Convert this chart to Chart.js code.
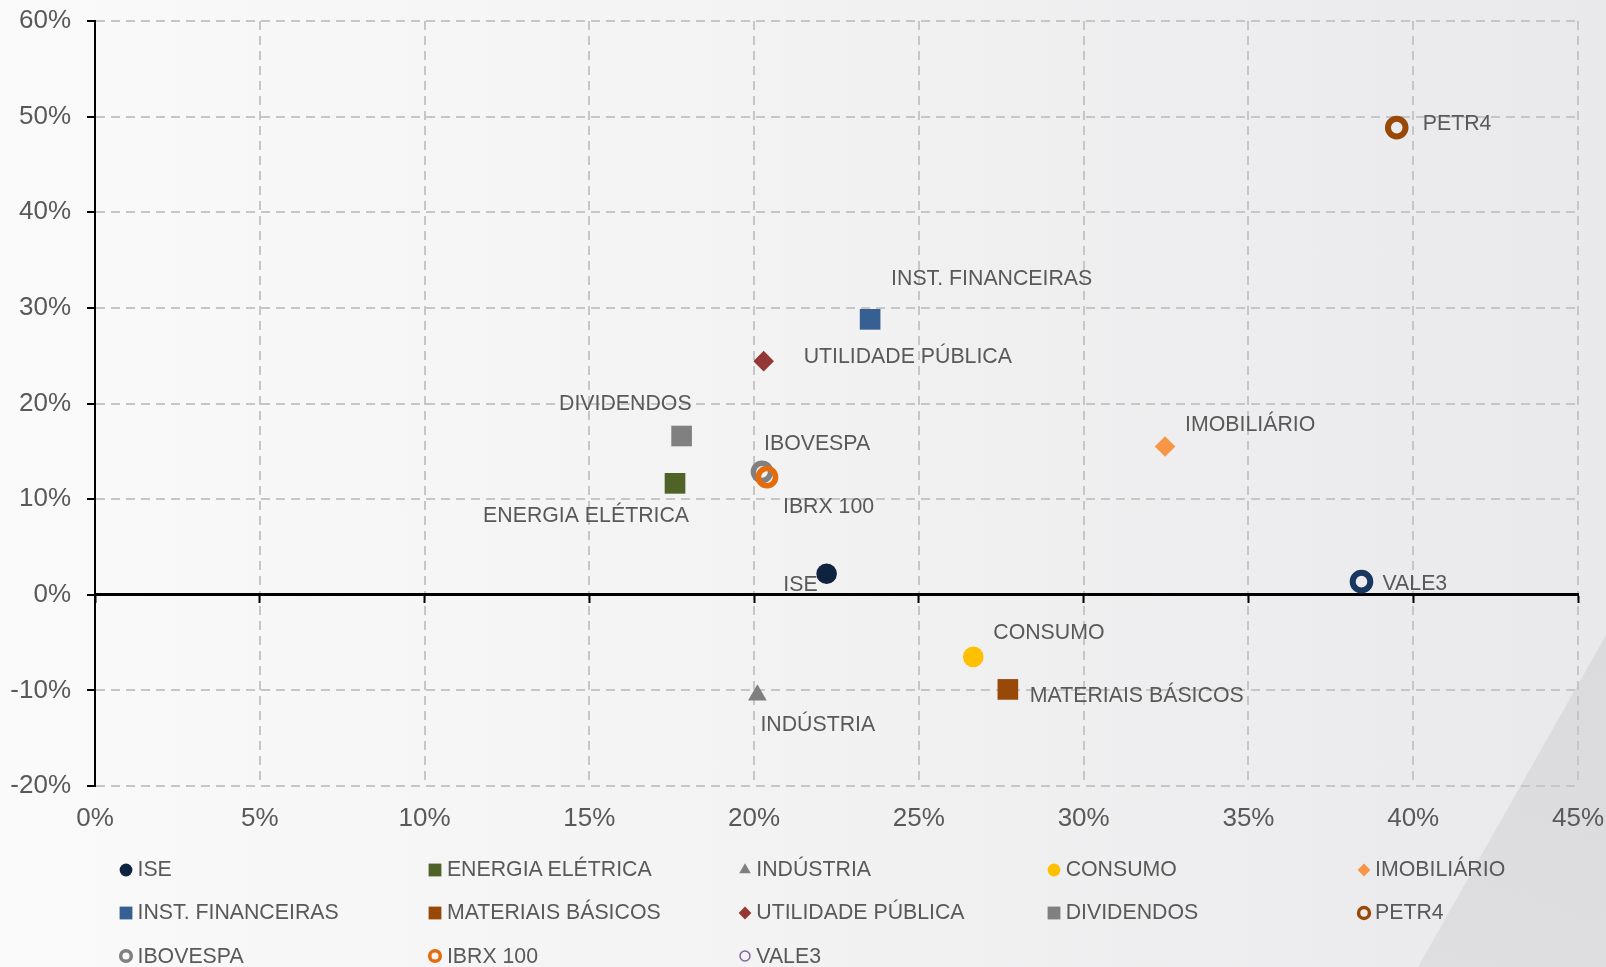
<!DOCTYPE html>
<html lang="pt-BR">
<head>
<meta charset="utf-8">
<title>Retorno x Volatilidade</title>
<script src="https://cdn.jsdelivr.net/npm/chart.js@4.4.1/dist/chart.umd.min.js"></script>
<style>
  html, body { margin: 0; padding: 0; }
  body {
    width: 1606px; height: 967px; position: relative; overflow: hidden;
    background: linear-gradient(90deg, #fafafa 0%, #f3f3f4 45%, #e9e9eb 100%);
    font-family: "Liberation Sans", Arial, sans-serif;
  }
  #corner {
    position: absolute; left: 0; top: 0; width: 1606px; height: 967px;
    background: linear-gradient(200deg, #d5d5d7 0%, #e3e3e5 100%);
    clip-path: polygon(1606px 635px, 1606px 967px, 1418px 967px);
  }
  #wrap { position: absolute; left: 0; top: 0; width: 1606px; height: 967px; }
  #legend {
    position: absolute; left: 118px; top: 848px;
    display: grid; grid-template-columns: repeat(5, 309.4px); grid-auto-rows: 43.3px;
  }
  .item { display: flex; align-items: center; font-size: 21.3px; color: #595959; white-space: nowrap; }
  .item canvas { width: 16px; height: 16px; margin-right: 3.5px; }
</style>
</head>
<body>
<div id="corner"></div>
<div id="wrap"><canvas id="chart"></canvas></div>
<div id="legend"></div>
<script>
// series, in legend order
var seriesNames = ['ISE', 'ENERGIA ELÉTRICA', 'INDÚSTRIA', 'CONSUMO', 'IMOBILIÁRIO',
                   'INST. FINANCEIRAS', 'MATERIAIS BÁSICOS', 'UTILIDADE PÚBLICA', 'DIVIDENDOS', 'PETR4',
                   'IBOVESPA', 'IBRX 100', 'VALE3'];
// horizontal value (%) and vertical value (%) of each series
var volatility = [22.2, 17.6, 20.1, 26.65, 32.47, 23.52, 27.7, 20.29, 17.8, 39.5, 20.24, 20.39, 38.43];
var returns    = [2.2, 11.65, -10.5, -6.5, 15.5, 28.8, -9.9, 24.43, 16.6, 48.85, 12.85, 12.3, 1.37];
// axis ticks (%)
var xTicks = [0, 5, 10, 15, 20, 25, 30, 35, 40, 45];
var yTicks = [-20, -10, 0, 10, 20, 30, 40, 50, 60];

// marker look per series (ring = border width of hollow circles)
var markers = [
    { style: 'circle',   color: '#0f2340', radius: 10.3 },
    { style: 'rect',     color: '#4f6228', radius: 14.6 },
    { style: 'triangle', color: '#7f7f7f', radius: 10.8 },
    { style: 'circle',   color: '#ffc000', radius: 10.3 },
    { style: 'rectRot',  color: '#f79646', radius: 10.3 },
    { style: 'rect',     color: '#376092', radius: 14.6 },
    { style: 'rect',     color: '#984807', radius: 14.6 },
    { style: 'rectRot',  color: '#953735', radius: 10.3 },
    { style: 'rect',     color: '#808080', radius: 14.6 },
    { style: 'circle',   color: '#984807', radius: 8.8, ring: 6 },
    { style: 'circle',   color: '#808080', radius: 8.6, ring: 5.5 },
    { style: 'circle',   color: '#e46c0a', radius: 8.6, ring: 5.5 },
    { style: 'circle',   color: '#17375e', radius: 8.8, ring: 6 }
];
// VALE3 shows a thin purple circle in the legend
var legendOverride = { 'VALE3': { color: '#8064a2', radius: 5, ring: 1.5 } };

// label placement next to each point: text align, dx, dy (px)
var labelPlacement = [
    ['right', -9, 11], ['right', 14, 33], ['left', 3, 30], ['left', 20, -24], ['left', 20, -21],
    ['left', 21, -40], ['left', 22, 7], ['left', 40, -4], ['right', 10, -32], ['left', 26, -4],
    ['left', 2, -28], ['left', 16, 30], ['left', 21, 2]
];

var textColor = '#595959';
var gridColor = '#c6c6c6';
Chart.defaults.font.family = '"Liberation Sans", Arial, sans-serif';
Chart.defaults.color = textColor;

// draws the series name beside its point
var pointLabels = {
    id: 'pointLabels',
    afterDatasetsDraw: function (chart) {
        var ctx = chart.ctx;
        ctx.save();
        ctx.font = '21.3px "Liberation Sans", Arial, sans-serif';
        ctx.fillStyle = textColor;
        ctx.textBaseline = 'middle';
        chart.data.datasets.forEach(function (ds, i) {
            var pt = chart.getDatasetMeta(i).data[0];
            var p = labelPlacement[i];
            ctx.textAlign = p[0];
            ctx.fillText(ds.label, pt.x + p[1], pt.y + p[2]);
        });
        ctx.restore();
    }
};

function setTicks(list) {
    return function (scale) {
        scale.ticks = list.map(function (v) { return { value: v }; });
    };
}
// the plot area is placed by layout.padding only
function noOverflow(s) {
    s.paddingTop = 0; s.paddingBottom = 0; s.paddingLeft = 0; s.paddingRight = 0;
}

var datasets = seriesNames.map(function (name, i) {
    var m = markers[i];
    return {
        label: name,
        data: [{ x: volatility[i], y: returns[i] }],
        pointStyle: m.style,
        pointRadius: m.radius,
        pointHoverRadius: m.radius,
        backgroundColor: m.ring ? 'rgba(0,0,0,0)' : m.color,
        borderColor: m.color,
        borderWidth: m.ring || 0,
        order: name === 'IBRX 100' ? -1 : 0
    };
});

var chart = new Chart(document.getElementById('chart'), {
    type: 'scatter',
    data: { datasets: datasets },
    options: {
        responsive: true,
        maintainAspectRatio: false,
        animation: false,
        events: [],
        layout: { padding: { top: 21, right: 28, left: 0, bottom: 0 } },
        plugins: { legend: { display: false }, tooltip: { enabled: false } },
        scales: {
            x: {
                type: 'linear', min: 0, max: 45, position: 'bottom',
                afterBuildTicks: setTicks(xTicks),
                afterFit: function (s) { s.height = 181; noOverflow(s); },
                grid: { color: gridColor, lineWidth: 2, drawTicks: false },
                border: { display: false, dash: [9, 6] },
                ticks: { padding: 17, font: { size: 26 }, callback: function (v) { return v + '%'; } }
            },
            // horizontal axis line crossing at 0%
            zero: {
                type: 'linear', axis: 'x', min: 0, max: 45, position: { y: 0 },
                afterBuildTicks: setTicks(xTicks),
                afterFit: noOverflow,
                grid: { drawOnChartArea: false, drawTicks: true, tickLength: 7, tickColor: '#000', tickWidth: 2 },
                border: { color: '#000', width: 3 },
                ticks: { display: false }
            },
            y: {
                type: 'linear', min: -20, max: 60,
                afterBuildTicks: setTicks(yTicks),
                afterFit: function (s) { s.width = 95; noOverflow(s); },
                grid: { color: gridColor, lineWidth: 2, tickLength: 8, tickColor: '#000', tickWidth: 2 },
                border: { color: '#000', width: 2, dash: [9, 6] },
                ticks: { padding: 16, font: { size: 26 }, callback: function (v) { return v + '%'; } }
            }
        }
    },
    plugins: [pointLabels]
});

// html legend in a 5 column grid
var legendEl = document.getElementById('legend');
seriesNames.forEach(function (name, i) {
    var m = Object.assign({}, markers[i], { radius: markers[i].radius * 0.62, ring: markers[i].ring ? 3.5 : 0 },
                          legendOverride[name] || {});
    var item = document.createElement('div');
    item.className = 'item';
    var c = document.createElement('canvas');
    c.width = 16; c.height = 16;
    var ctx = c.getContext('2d');
    ctx.fillStyle = m.ring ? 'rgba(0,0,0,0)' : m.color;
    ctx.strokeStyle = m.color;
    ctx.lineWidth = m.ring || 0;
    Chart.helpers.drawPoint(ctx, { pointStyle: m.style, rotation: 0, radius: m.radius, borderWidth: m.ring || 0 }, 8, 8);
    item.appendChild(c);
    var span = document.createElement('span');
    span.textContent = name;
    item.appendChild(span);
    legendEl.appendChild(item);
});
</script>
</body>
</html>
